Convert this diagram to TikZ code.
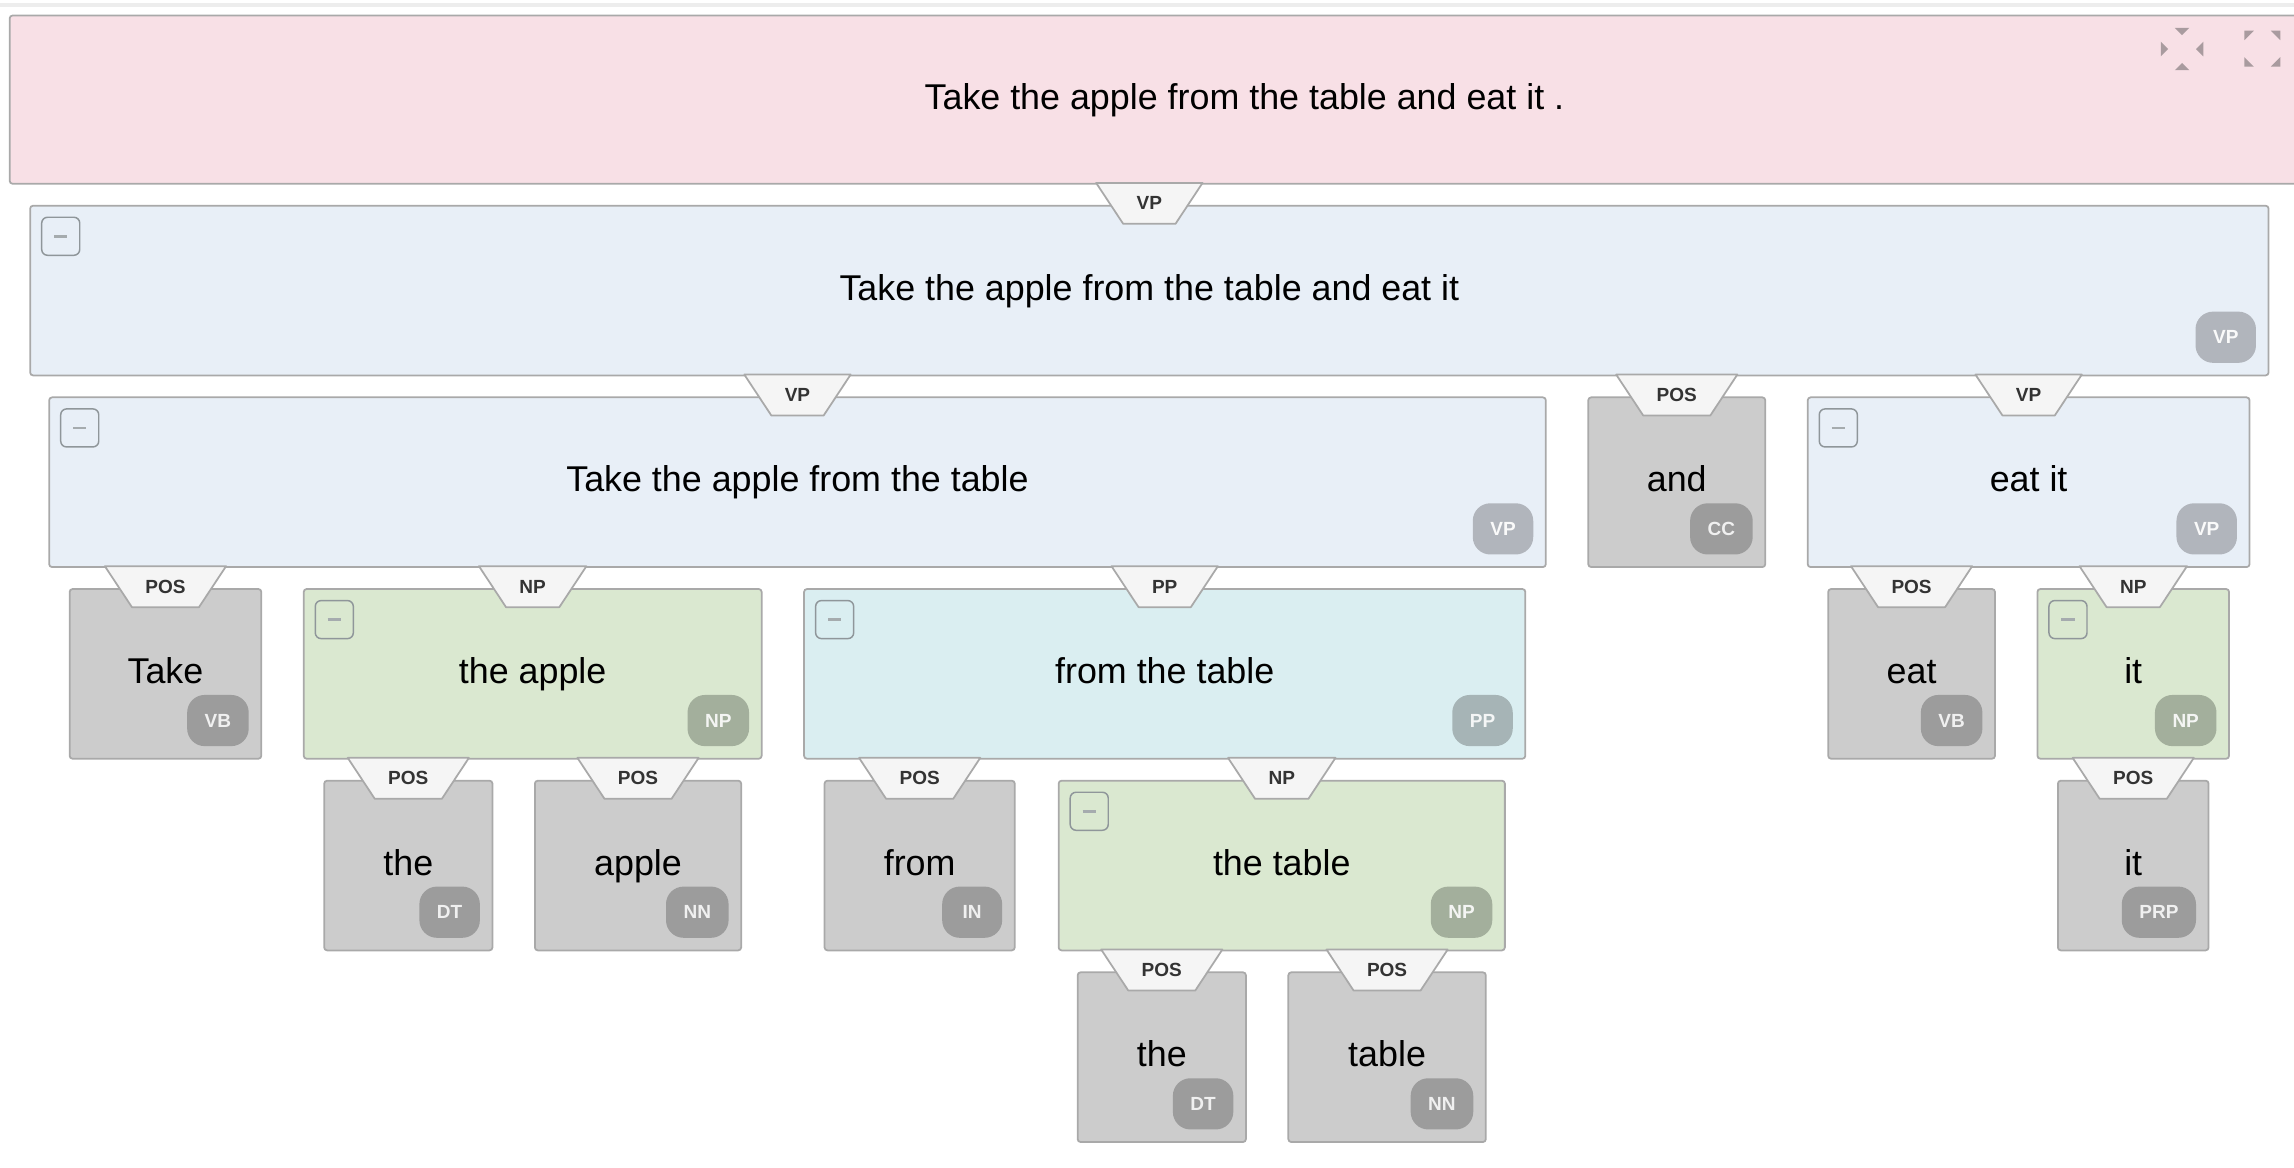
\documentclass[tikz,border=0pt]{standalone}
\usepackage{fontspec}
\setmainfont{Liberation Sans}

\definecolor{rootpink}{HTML}{F8E0E6}
\definecolor{vpblue}{HTML}{E8EFF7}
\definecolor{npgreen}{HTML}{DAE8D0}
\definecolor{ppcyan}{HTML}{DAEEF1}
\definecolor{posgray}{HTML}{CCCCCC}
\definecolor{boxline}{HTML}{A9A9A9}
\definecolor{labfill}{HTML}{F5F5F5}
\definecolor{labcolor}{HTML}{333333}
\definecolor{vptag}{HTML}{B1B5BC}
\definecolor{nptag}{HTML}{A3AF9C}
\definecolor{pptag}{HTML}{A6B4B6}
\definecolor{postag}{HTML}{9C9C9C}
\definecolor{iconc}{HTML}{A99B9F}
\definecolor{btnline}{HTML}{8F969A}

\pgfdeclarelayer{links}
\pgfdeclarelayer{linktext}
\pgfsetlayers{main,links,linktext}

\tikzset{
  box/.style={draw=boxline, line width=1.2pt, rounded corners=2pt, anchor=north west,
    minimum height=116pt, inner sep=0pt, text height=18pt, text depth=5pt,
    font=\fontsize{24.5}{28}\selectfont},
  rootbox/.style={box, fill=rootpink, minimum height=115pt},
  vpbox/.style={box, fill=vpblue},
  npbox/.style={box, fill=npgreen},
  ppbox/.style={box, fill=ppcyan},
  posbox/.style={box, fill=posgray},
  edgelab/.style={fill=labfill, draw=boxline, line width=1.2pt, line join=round},
  labtext/.style={inner sep=0pt, text=labcolor, font=\bfseries\fontsize{13}{15}\selectfont},
  tagbox/.style={anchor=south east, minimum width=41pt, minimum height=35pt,
    inner xsep=12pt, inner ysep=0pt, rounded corners=12pt,
    font=\bfseries\fontsize{13}{15}\selectfont},
  vptag/.style={tagbox, fill=vptag, text=white!93!vptag},
  nptag/.style={tagbox, fill=nptag, text=white!88!nptag},
  pptag/.style={tagbox, fill=pptag, text=white!88!pptag},
  postag/.style={tagbox, fill=postag, text=white!85!postag},
  minusbtn/.style={draw=btnline, line width=1pt, rounded corners=4pt, anchor=north west,
    minimum width=26pt, minimum height=26pt, inner sep=0pt,
    path picture={\draw[btnline!80, line width=1.8pt]
      ([xshift=-4.5pt]path picture bounding box.center) --
      ([xshift=4.5pt]path picture bounding box.center);}},
  icon/.style={fill=iconc}
}

% label on the link from the parent, hanging from the parent's lower edge
\newcommand\edgelab[2]{%
  \begin{pgfonlayer}{linktext}
  \node[labtext] (#1-lab) at ([yshift=1pt]#1.north) {#2};
  \end{pgfonlayer}
  \begin{pgfonlayer}{links}
  \draw[edgelab] ([shift={(-27.5,-15)}]#1-lab.west |- #1.north)
    -- ([shift={(27.5,-15)}]#1-lab.east |- #1.north)
    -- ([shift={(9,13)}]#1-lab.east |- #1.north)
    -- ([shift={(-9,13)}]#1-lab.west |- #1.north) -- cycle;
  \end{pgfonlayer}}
% category badge in the lower right corner
\newcommand\tagof[3]{\node[#2] (#1-tag) at ([xshift=-9pt,yshift=9pt]#1.south east) {#3};}
% collapse button in the upper left corner
\newcommand\btn[1]{\node[minusbtn] (#1-btn) at ([xshift=8pt,yshift=-8pt]#1.north west) {};}

\begin{document}
\begin{tikzpicture}[x=1pt,y=-1pt]
\useasboundingbox (0,0) rectangle (1568,798);
\fill[black!7] (0,2) rectangle (1568,4.5);

% sentence
\node[rootbox, minimum width=1688pt] (root) at (6,10) {Take the apple from the table and eat it .};
\coordinate (shrink) at (1491.5,33.5);
\coordinate (grow) at (1546.3,33.3);
\begin{scope}[shift={(shrink)}]
\foreach \a in {0,90,180,270}
  \fill[icon, rotate=\a] (-5,-14.5) -- (5,-14.5) -- (0,-9.5) -- cycle;
\end{scope}
\begin{scope}[shift={(grow)}]
\foreach \a in {0,90,180,270}
  \fill[icon, rotate=\a] (-12.3,-12.3) -- (-5.8,-12.3) -- (-12.3,-5.8) -- cycle;
\end{scope}

% level 1
\node[vpbox, minimum width=1530pt] (vp0) at (20,140) {Take the apple from the table and eat it};
\btn{vp0} \tagof{vp0}{vptag}{VP} \edgelab{vp0}{VP}

% level 2
\node[vpbox, minimum width=1023pt] (vp1) at (33,271) {Take the apple from the table};
\node[posbox, minimum width=121pt] (and) at (1085,271) {and};
\node[vpbox, minimum width=302pt] (vp2) at (1235,271) {eat it};
\btn{vp1} \tagof{vp1}{vptag}{VP} \edgelab{vp1}{VP}
\tagof{and}{postag}{CC} \edgelab{and}{POS}
\btn{vp2} \tagof{vp2}{vptag}{VP} \edgelab{vp2}{VP}

% level 3
\node[posbox, minimum width=131pt] (take) at (47,402) {Take};
\node[npbox, minimum width=313pt] (np1) at (207,402) {the apple};
\node[ppbox, minimum width=493pt] (pp1) at (549,402) {from the table};
\node[posbox, minimum width=114pt] (eat) at (1249,402) {eat};
\node[npbox, minimum width=131pt] (np3) at (1392,402) {it};
\tagof{take}{postag}{VB} \edgelab{take}{POS}
\btn{np1} \tagof{np1}{nptag}{NP} \edgelab{np1}{NP}
\btn{pp1} \tagof{pp1}{pptag}{PP} \edgelab{pp1}{PP}
\tagof{eat}{postag}{VB} \edgelab{eat}{POS}
\btn{np3} \tagof{np3}{nptag}{NP} \edgelab{np3}{NP}

% level 4
\node[posbox, minimum width=115pt] (the1) at (221,533) {the};
\node[posbox, minimum width=141pt] (apple) at (365,533) {apple};
\node[posbox, minimum width=130pt] (from) at (563,533) {from};
\node[npbox, minimum width=305pt] (np2) at (723,533) {the table};
\node[posbox, minimum width=103pt] (it) at (1406,533) {it};
\tagof{the1}{postag}{DT} \edgelab{the1}{POS}
\tagof{apple}{postag}{NN} \edgelab{apple}{POS}
\tagof{from}{postag}{IN} \edgelab{from}{POS}
\btn{np2} \tagof{np2}{nptag}{NP} \edgelab{np2}{NP}
\tagof{it}{postag}{PRP} \edgelab{it}{POS}

% level 5
\node[posbox, minimum width=115pt] (the2) at (736,664) {the};
\node[posbox, minimum width=135pt] (table) at (880,664) {table};
\tagof{the2}{postag}{DT} \edgelab{the2}{POS}
\tagof{table}{postag}{NN} \edgelab{table}{POS}
\end{tikzpicture}
\end{document}
